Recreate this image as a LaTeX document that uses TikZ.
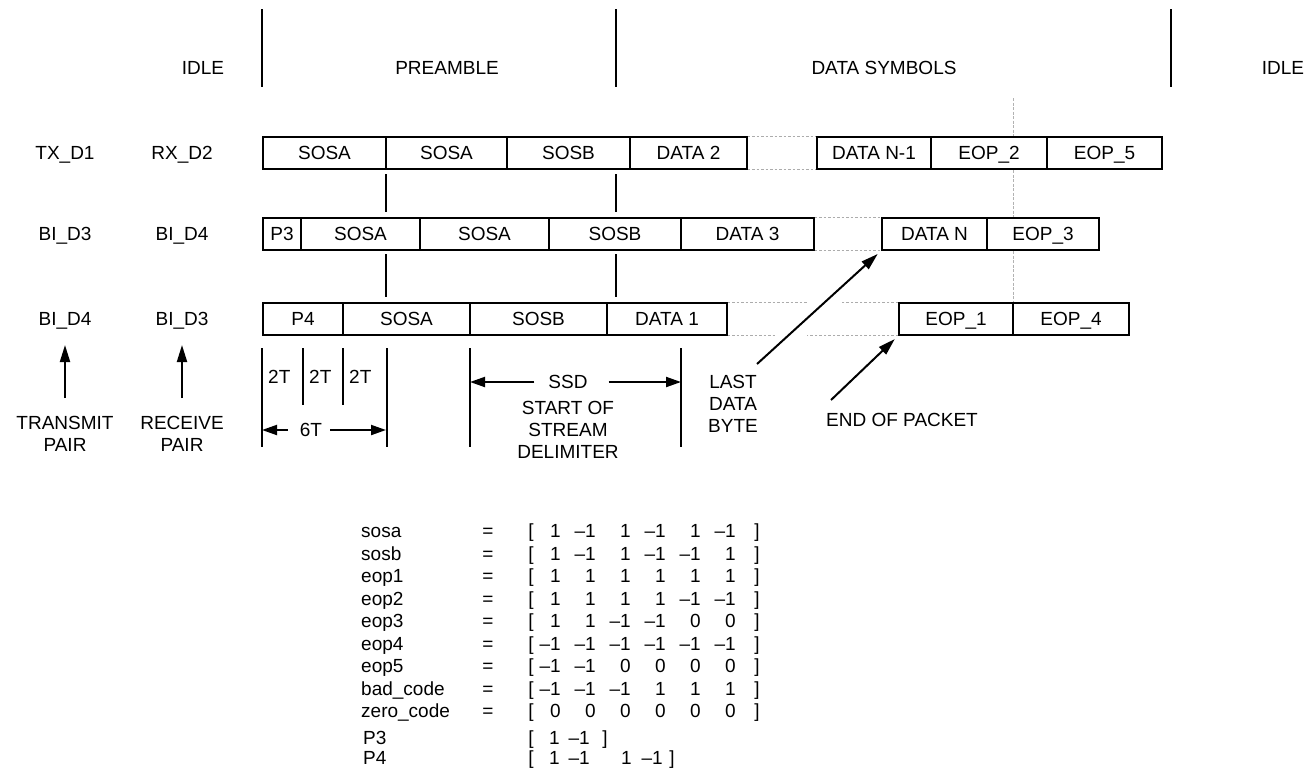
\documentclass[tikz,border=0pt]{standalone}
\usepackage{fontspec}
\setmainfont{Liberation Sans}
\usetikzlibrary{arrows.meta,calc}
\begin{document}
\begin{tikzpicture}[x=1pt,y=-1pt,
  txt/.style={font=\fontsize{19}{22}\selectfont, inner sep=0pt, text height=13.6pt, text depth=0pt},
  multi/.style={font=\fontsize{19}{22}\selectfont, inner sep=0pt, align=center, anchor=north},
  cell/.style={txt, draw, fill=white, line width=1.2pt, minimum height=32pt},
  sep/.style={line width=1.8pt},
  conn/.style={line width=1.4pt},
  vline/.style={line width=1.4pt},
  gapline/.style={draw=gray!65, line width=0.9pt, dash pattern=on 2.5pt off 2pt},
  guide/.style={draw=gray!60, line width=0.8pt, dash pattern=on 3pt off 1.5pt},
  arr/.style={line width=2pt, -{Triangle[length=17pt,width=10pt]}},
  dim/.style={line width=2pt, -{Triangle[length=15pt,width=10pt]}}
]
\useasboundingbox (0,0) rectangle (1305,780);

% header
\draw[sep] (262,9) -- (262,87);
\draw[sep] (616,9) -- (616,87);
\draw[sep] (1171,9) -- (1171,87);
\node[txt] (idleA) at (203,68) {IDLE};
\node[txt] (pre) at (447,68) {PREAMBLE};
\node[txt] (dsym) at (884,68) {DATA SYMBOLS};
\node[txt] (idleB) at (1283,68) {IDLE};

% guide line
\draw[guide] (1013,98) -- (1013,302);

% row labels
\node[txt] (l1a) at (65,153) {TX\_D1};
\node[txt] (l1b) at (182,153) {RX\_D2};
\node[txt] (l2a) at (65,234) {BI\_D3};
\node[txt] (l2b) at (182,234) {BI\_D4};
\node[txt] (l3a) at (65,319) {BI\_D4};
\node[txt] (l3b) at (182,319) {BI\_D3};

% row 1
\node[cell, minimum width=123pt] (a1) at (324.5,153) {SOSA};
\node[cell, minimum width=121pt] (a2) at (446.5,153) {SOSA};
\node[cell, minimum width=123pt] (a3) at (568.5,153) {SOSB};
\node[cell, minimum width=117pt] (a4) at (688.5,153) {DATA 2};
\node[cell, minimum width=114pt] (a5) at (874,153) {DATA N-1};
\node[cell, minimum width=116pt] (a6) at (989,153) {EOP\_2};
\node[cell, minimum width=115pt] (a7) at (1104.5,153) {EOP\_5};
\draw[gapline] (a4.north east) -- (a5.north west);
\draw[gapline] (a4.south east) -- (a5.south west);

% row 2
\node[cell, minimum width=38pt] (b1) at (282,234) {P3};
\node[cell, minimum width=119pt] (b2) at (360.5,234) {SOSA};
\node[cell, minimum width=129pt] (b3) at (484.5,234) {SOSA};
\node[cell, minimum width=132pt] (b4) at (615,234) {SOSB};
\node[cell, minimum width=133pt] (b5) at (747.5,234) {DATA 3};
\node[cell, minimum width=105pt] (b6) at (934.5,234) {DATA N};
\node[cell, minimum width=112pt] (b7) at (1043,234) {EOP\_3};
\draw[gapline] (b5.north east) -- (b6.north west);
\draw[gapline] (b5.south east) -- (b6.south west);

% row 3
\node[cell, minimum width=80pt] (c1) at (303,319) {P4};
\node[cell, minimum width=127pt] (c2) at (406.5,319) {SOSA};
\node[cell, minimum width=137pt] (c3) at (538.5,319) {SOSB};
\node[cell, minimum width=120pt] (c4) at (667,319) {DATA 1};
\node[cell, minimum width=114pt] (c5) at (956,319) {EOP\_1};
\node[cell, minimum width=116pt] (c6) at (1071,319) {EOP\_4};
\draw[gapline] (c4.north east) -- ++(80,0);
\draw[gapline] (c5.north west) -- ++(-56,0);
\draw[gapline] (c4.south east) -- ++(48,0);
\draw[gapline] (c5.south west) -- ++(-91,0);

% connectors between rows
\coordinate (k1t) at (386,174); \coordinate (k1b) at (386,212);
\coordinate (k2t) at (616,174); \coordinate (k2b) at (616,212);
\coordinate (k3t) at (386,254); \coordinate (k3b) at (386,297);
\coordinate (k4t) at (616,254); \coordinate (k4b) at (616,297);
\draw[conn] (k1t) -- (k1b);
\draw[conn] (k2t) -- (k2b);
\draw[conn] (k3t) -- (k3b);
\draw[conn] (k4t) -- (k4b);

% pair arrows
\node[multi] (tp) at (65,416) {TRANSMIT\\PAIR};
\node[multi] (rp) at (182,416) {RECEIVE\\PAIR};
\draw[arr, shorten <=18pt, shorten >=19pt] (tp.north) -- (l3a.south);
\draw[arr, shorten <=18pt, shorten >=19pt] (rp.north) -- (l3b.south);

% 2T / 6T
\coordinate (t0a) at (262,348); \coordinate (t0b) at (262,447);
\coordinate (t1a) at (303,348); \coordinate (t1b) at (303,405);
\coordinate (t2a) at (343,348); \coordinate (t2b) at (343,405);
\coordinate (t3a) at (387,348); \coordinate (t3b) at (387,447);
\draw[vline] (t0a) -- (t0b);
\draw[vline] (t1a) -- (t1b);
\draw[vline] (t2a) -- (t2b);
\draw[vline] (t3a) -- (t3b);
\node[txt, anchor=west] (tt1) at (268,377) {2T};
\node[txt, anchor=west] (tt2) at (309,377) {2T};
\node[txt, anchor=west] (tt3) at (349,377) {2T};
\node[txt] (six) at (311,430) {6T};
\draw[dim] ($(six.west)+(-12,0)$) -- (t0a |- six);
\draw[dim, shorten >=1pt] ($(six.east)+(8,0)$) -- (t3a |- six);

% SSD
\coordinate (s0a) at (470,348); \coordinate (s0b) at (470,447);
\coordinate (s1a) at (681,348); \coordinate (s1b) at (681,447);
\draw[vline] (s0a) -- (s0b);
\draw[vline] (s1a) -- (s1b);
\node[txt] (ssd) at (568,382) {SSD};
\node[multi] (sos) at (568,401) {START OF\\STREAM\\DELIMITER};
\draw[dim] ($(ssd.west)+(-14,0)$) -- (s0a |- ssd);
\draw[dim] ($(ssd.east)+(21,0)$) -- (s1a |- ssd);

% last data byte / end of packet
\node[multi] (ldb) at (733,375) {LAST\\DATA\\BYTE};
\coordinate (lt) at (757,364);
\draw[arr, shorten >=5pt] (lt) -- (b6.south west);
\node[txt] (eopk) at (902,420) {END OF PACKET};
\coordinate (et) at (831,400);
\draw[arr, shorten >=5pt] (et) -- (c5.south west);

% code table
\foreach \nm/\yy/\vals [count=\i] in {
  sosa/531/{1,–1,1,–1,1,–1},
  sosb/553.5/{1,–1,1,–1,–1,1},
  eop1/576/{1,1,1,1,1,1},
  eop2/598.5/{1,1,1,1,–1,–1},
  eop3/621/{1,1,–1,–1,0,0},
  eop4/643.5/{–1,–1,–1,–1,–1,–1},
  eop5/666/{–1,–1,0,0,0,0},
  bad\_code/688.5/{–1,–1,–1,1,1,1},
  zero\_code/711/{0,0,0,0,0,0}}
{
  \node[txt, anchor=west] (ml\i) at (361,\yy) {\nm};
  \node[txt] (me\i) at (488,\yy) {=};
  \node[txt] (mo\i) at (531,\yy) {[};
  \foreach \v [count=\j] in \vals {
    \node[txt, anchor=east] (mv\i-\j) at (526+35*\j,\yy) {\v};
  }
  \node[txt] (mc\i) at (757,\yy) {]};
}
\node[txt, anchor=west] (p3l) at (363,738) {P3};
\node[txt] (p3o) at (531,738) {[};
\node[txt, anchor=east] (p3v1) at (560,738) {1};
\node[txt, anchor=east] (p3v2) at (590,738) {–1};
\node[txt] (p3c) at (605,738) {]};
\node[txt, anchor=west] (p4l) at (363,758) {P4};
\node[txt] (p4o) at (531,758) {[};
\node[txt, anchor=east] (p4v1) at (560,758) {1};
\node[txt, anchor=east] (p4v2) at (590,758) {–1};
\node[txt, anchor=east] (p4v3) at (632,758) {1};
\node[txt, anchor=east] (p4v4) at (663,758) {–1};
\node[txt] (p4c) at (672,758) {]};
\end{tikzpicture}
\end{document}
